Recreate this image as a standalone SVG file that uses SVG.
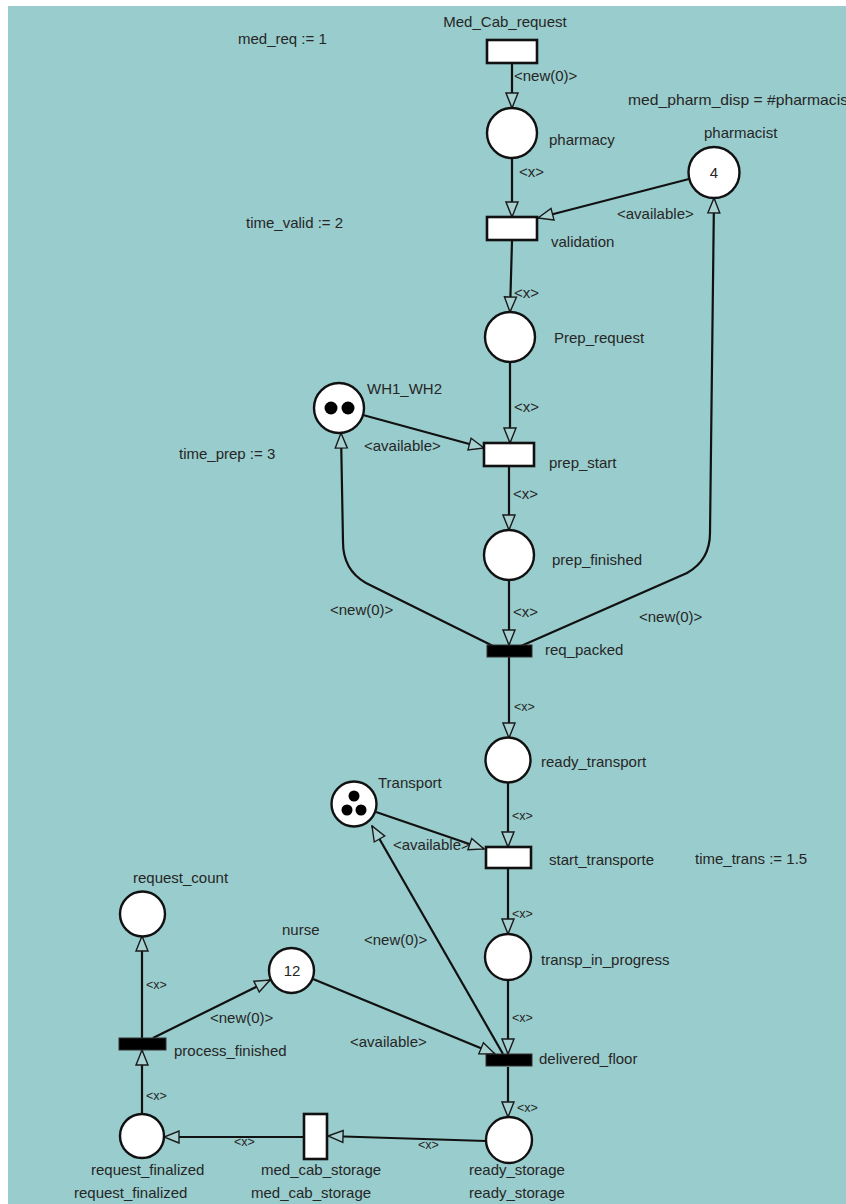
<svg xmlns="http://www.w3.org/2000/svg" width="846" height="1204" viewBox="0 0 846 1204">
  <defs>
    <marker id="arrow" viewBox="0 0 17 15" refX="16" refY="7.5" markerWidth="17" markerHeight="15" markerUnits="userSpaceOnUse" orient="auto">
      <path d="M1,1.5 L16,7.5 L1,13.5 Z" fill="#a8d1d1" stroke="#1a1a1a" stroke-width="1.4" stroke-linejoin="miter"/>
    </marker>
  </defs>
  <style>
    .place { fill: #ffffff; stroke: #111111; stroke-width: 2.4; }
    .trans { fill: #ffffff; stroke: #111111; stroke-width: 2.6; }
    .bar { fill: #000000; stroke: #333333; stroke-width: 1; }
    .token { fill: #000000; }
    .arc { fill: none; stroke: #111111; stroke-width: 2.2; marker-end: url(#arrow); }
    text { font-family: "Liberation Sans", Arial, sans-serif; fill: #262626; }
    .lbl { font-size: 15px; }
    .ins { font-size: 15px; }
    .sm { font-size: 12.5px; }
    .mid { text-anchor: middle; }
  </style>

  <!-- canvas -->
  <rect x="0" y="0" width="846" height="1204" fill="#ffffff"/>
  <rect x="8" y="6" width="838" height="1198" fill="#99cccc"/>

  <!-- global declarations -->
  <g id="declarations">
    <text class="lbl" x="238" y="44">med_req := 1</text>
    <text class="lbl" x="628" y="105" textLength="220" lengthAdjust="spacingAndGlyphs">med_pharm_disp = #pharmacis</text>
    <text class="lbl" x="246" y="228">time_valid := 2</text>
    <text class="lbl" x="179" y="459">time_prep := 3</text>
    <text class="lbl" x="695" y="864">time_trans := 1.5</text>
  </g>

  <!-- arcs -->
  <g id="connectors">
    <path class="arc" d="M512,64 L512,108"/>
    <path class="arc" d="M512,158 L512,217"/>
    <path class="arc" d="M689,179 L538,218"/>
    <path class="arc" d="M512,241 L510,312"/>
    <path class="arc" d="M510,362 L510,443"/>
    <path class="arc" d="M363,415 L484,448"/>
    <path class="arc" d="M509,467 L509,530"/>
    <path class="arc" d="M509,580 L509,645"/>
    <path class="arc" d="M493,646 L366,583 Q343,570 343,542 L341,433"/>
    <path class="arc" d="M521,646 L687,573 Q710,560 710,533 L714,198"/>
    <path class="arc" d="M509,657 L509,738"/>
    <path class="arc" d="M508,783 L508,847"/>
    <path class="arc" d="M376,812 L484,849"/>
    <path class="arc" d="M508,869 L508,934"/>
    <path class="arc" d="M508,980 L508,1054"/>
    <path class="arc" d="M313,979 L495,1054"/>
    <path class="arc" d="M503,1054 L372,826"/>
    <path class="arc" d="M508,1067 L508,1117"/>
    <path class="arc" d="M486,1141 L328,1136"/>
    <path class="arc" d="M304,1137 L164,1137"/>
    <path class="arc" d="M142,1114 L142,1050"/>
    <path class="arc" d="M142,1038 L142,936"/>
    <path class="arc" d="M153,1038 L270,980"/>
  </g>

  <!-- arc inscriptions -->
  <g id="inscriptions">
    <text class="ins" x="514" y="81">&lt;new(0)&gt;</text>
    <text class="ins" x="519" y="177">&lt;x&gt;</text>
    <text class="ins" x="617" y="219">&lt;available&gt;</text>
    <text class="ins" x="514" y="298">&lt;x&gt;</text>
    <text class="ins" x="514" y="412">&lt;x&gt;</text>
    <text class="ins" x="364" y="451">&lt;available&gt;</text>
    <text class="ins" x="513" y="499">&lt;x&gt;</text>
    <text class="ins" x="330" y="615">&lt;new(0)&gt;</text>
    <text class="ins" x="513" y="617">&lt;x&gt;</text>
    <text class="ins" x="639" y="622">&lt;new(0)&gt;</text>
    <text class="sm" x="514" y="711">&lt;x&gt;</text>
    <text class="sm" x="512" y="820">&lt;x&gt;</text>
    <text class="ins" x="393" y="850">&lt;available&gt;</text>
    <text class="sm" x="512" y="918">&lt;x&gt;</text>
    <text class="ins" x="364" y="945">&lt;new(0)&gt;</text>
    <text class="sm" x="146" y="989">&lt;x&gt;</text>
    <text class="ins" x="210" y="1023">&lt;new(0)&gt;</text>
    <text class="sm" x="512" y="1022">&lt;x&gt;</text>
    <text class="ins" x="350" y="1047">&lt;available&gt;</text>
    <text class="sm" x="146" y="1100">&lt;x&gt;</text>
    <text class="sm" x="517" y="1112">&lt;x&gt;</text>
    <text class="sm" x="234" y="1146">&lt;x&gt;</text>
    <text class="sm" x="418" y="1149">&lt;x&gt;</text>
  </g>

  <!-- transitions -->
  <g id="Med_Cab_request">
    <rect class="trans" x="487" y="40" width="50" height="23"/>
    <text class="lbl mid" x="505" y="27">Med_Cab_request</text>
  </g>
  <g id="validation">
    <rect class="trans" x="487" y="217" width="50" height="23"/>
    <text class="lbl" x="551" y="247">validation</text>
  </g>
  <g id="prep_start">
    <rect class="trans" x="484" y="443" width="50" height="23"/>
    <text class="lbl" x="549" y="468">prep_start</text>
  </g>
  <g id="req_packed">
    <rect class="bar" x="487" y="645" width="45" height="12"/>
    <text class="lbl" x="545" y="655">req_packed</text>
  </g>
  <g id="start_transporte">
    <rect class="trans" x="486" y="847" width="45" height="21"/>
    <text class="lbl" x="549" y="865">start_transporte</text>
  </g>
  <g id="delivered_floor">
    <rect class="bar" x="486" y="1054" width="46" height="12"/>
    <text class="lbl" x="539" y="1064">delivered_floor</text>
  </g>
  <g id="process_finished">
    <rect class="bar" x="119" y="1038" width="47" height="12"/>
    <text class="lbl" x="174" y="1056">process_finished</text>
  </g>
  <g id="med_cab_storage">
    <rect class="trans" x="304" y="1114" width="23" height="45"/>
    <text class="lbl" x="261" y="1175">med_cab_storage</text>
    <text class="lbl" x="251" y="1198">med_cab_storage</text>
  </g>

  <!-- places -->
  <g id="pharmacy">
    <circle class="place" cx="512" cy="133" r="25"/>
    <text class="lbl" x="549" y="145">pharmacy</text>
  </g>
  <g id="pharmacist">
    <circle class="place" cx="714" cy="172.5" r="25.5"/>
    <text class="lbl" x="704" y="138">pharmacist</text>
    <text class="lbl mid" x="714" y="178">4</text>
  </g>
  <g id="Prep_request">
    <circle class="place" cx="510" cy="337" r="25"/>
    <text class="lbl" x="554" y="343">Prep_request</text>
  </g>
  <g id="WH1_WH2">
    <circle class="place" cx="339" cy="408" r="25"/>
    <circle class="token" cx="331" cy="408" r="6.5"/>
    <circle class="token" cx="348" cy="408" r="6.5"/>
    <text class="lbl" x="367" y="394">WH1_WH2</text>
  </g>
  <g id="prep_finished">
    <circle class="place" cx="509" cy="555" r="25"/>
    <text class="lbl" x="552" y="565">prep_finished</text>
  </g>
  <g id="ready_transport">
    <circle class="place" cx="508" cy="760" r="22.5"/>
    <text class="lbl" x="541" y="767">ready_transport</text>
  </g>
  <g id="Transport">
    <circle class="place" cx="354" cy="804" r="22.5"/>
    <circle class="token" cx="354" cy="796" r="5.5"/>
    <circle class="token" cx="347" cy="810" r="5.5"/>
    <circle class="token" cx="361" cy="810" r="5.5"/>
    <text class="lbl" x="378" y="788">Transport</text>
  </g>
  <g id="transp_in_progress">
    <circle class="place" cx="508" cy="957" r="23"/>
    <text class="lbl" x="541" y="965">transp_in_progress</text>
  </g>
  <g id="nurse">
    <circle class="place" cx="291.5" cy="970.5" r="22.5"/>
    <text class="lbl" x="282" y="935">nurse</text>
    <text class="lbl mid" x="292" y="976">12</text>
  </g>
  <g id="request_count">
    <circle class="place" cx="142.5" cy="914" r="22.5"/>
    <text class="lbl" x="133" y="883">request_count</text>
  </g>
  <g id="ready_storage">
    <circle class="place" cx="509" cy="1140" r="23"/>
    <text class="lbl" x="469" y="1175">ready_storage</text>
    <text class="lbl" x="469" y="1198">ready_storage</text>
  </g>
  <g id="request_finalized">
    <circle class="place" cx="142" cy="1136" r="22"/>
    <text class="lbl" x="91" y="1175">request_finalized</text>
    <text class="lbl" x="74" y="1198">request_finalized</text>
  </g>
</svg>
